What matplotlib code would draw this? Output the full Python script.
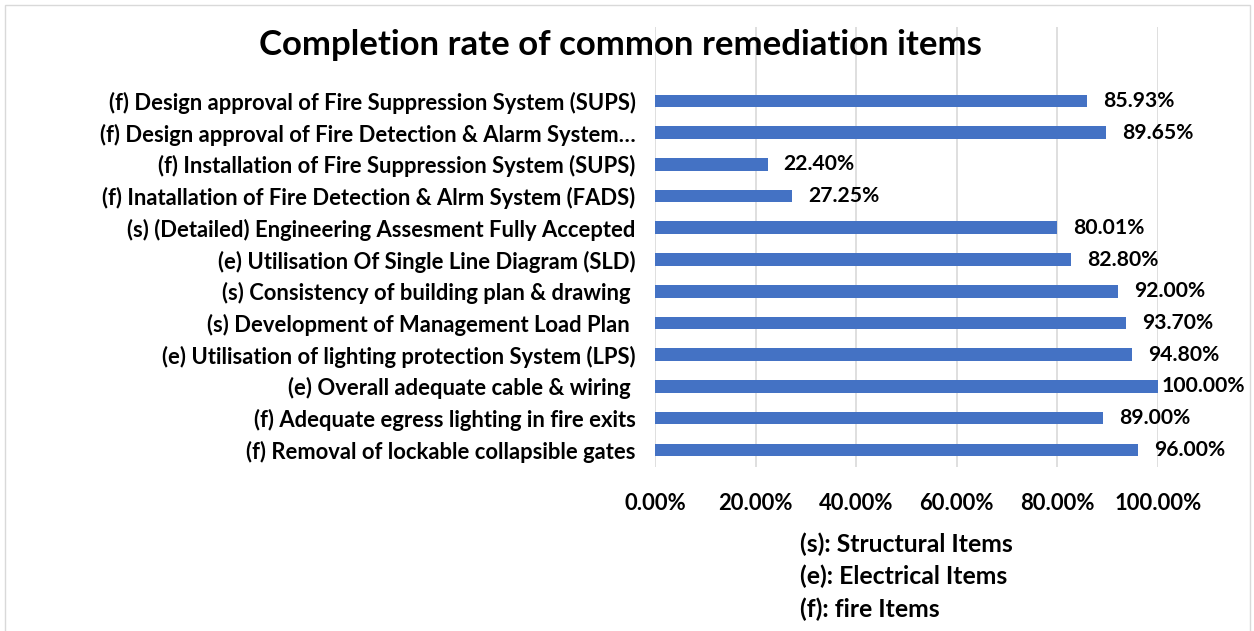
import matplotlib
matplotlib.use("Agg")
import matplotlib.pyplot as plt
import matplotlib.patches as patches

plt.rcParams['font.family'] = ['Lato', 'DejaVu Sans']
plt.rcParams['font.weight'] = 'bold'

# items, top to bottom as shown in the chart
items = [
    "(f) Design approval of Fire Suppression System (SUPS)",
    "(f) Design approval of Fire Detection & Alarm System\u2026",
    "(f) Installation of Fire Suppression System (SUPS)",
    "(f) Inatallation of Fire Detection & Alrm System (FADS)",
    "(s) (Detailed) Engineering Assesment Fully Accepted",
    "(e) Utilisation Of Single Line Diagram (SLD)",
    "(s) Consistency of building plan & drawing ",
    "(s) Development of Management Load Plan ",
    "(e) Utilisation of lighting protection System (LPS)",
    "(e) Overall adequate cable & wiring ",
    "(f) Adequate egress lighting in fire exits",
    "(f) Removal of lockable collapsible gates",
]
rates = [0.8593, 0.8965, 0.2240, 0.2725, 0.8001, 0.8280,
         0.9200, 0.9370, 0.9480, 1.0000, 0.8900, 0.9600]
ticks = [0.0, 0.2, 0.4, 0.6, 0.8, 1.0]
legend_lines = ["(s): Structural Items", "(e): Electrical Items", "(f): fire Items"]

fig = plt.figure(figsize=(12.54, 6.31), dpi=100)
ax = fig.add_axes([0.5223, 0.2599, 0.4011, 0.6973])

n = len(items)
ypos = list(range(n - 1, -1, -1))
ax.barh(ypos, rates, height=0.4, color='#4472C4', zorder=3)

# data labels; the one at the edge gets pulled in so it fits the chart
for y, v in zip(ypos, rates):
    ax.text(min(v + 0.032, 1.008), y, f"{v*100:.2f}%", va='center', ha='left',
            fontsize=15.2, fontweight='bold', color='#000000')

ax.set_xlim(0, 1)
ax.set_ylim(-0.54, n - 1 + 2.33)
ax.set_yticks(ypos)
ax.set_yticklabels(items, fontsize=15.8, fontweight='bold')
ax.set_xticks(ticks)
ax.set_xticklabels([f"{t*100:.2f}%" for t in ticks], fontsize=15.8, fontweight='bold')
ax.tick_params(axis='both', length=0)
ax.tick_params(axis='y', pad=14)
ax.tick_params(axis='x', pad=19)
ax.grid(axis='x', color='#D9D9D9', linewidth=1.2, zorder=0)
for s in ax.spines.values():
    s.set_visible(False)

fig.text(0.495, 0.928, "Completion rate of common remediation items",
         ha='center', va='center', fontsize=25, fontweight='bold')

for i, line in enumerate(legend_lines):
    fig.text(0.638, 1 - (544 + 32.5 * i) / 631, line, ha='left', va='center',
             fontsize=17.8, fontweight='bold')

# outer chart border
fig.patches.append(patches.Rectangle((5 / 1254, -0.01), 1245 / 1254, 1 - 5 / 631 + 0.01,
                                     transform=fig.transFigure, fill=False,
                                     edgecolor='#D9D9D9', linewidth=1))

fig.savefig("out.png", dpi=100)
